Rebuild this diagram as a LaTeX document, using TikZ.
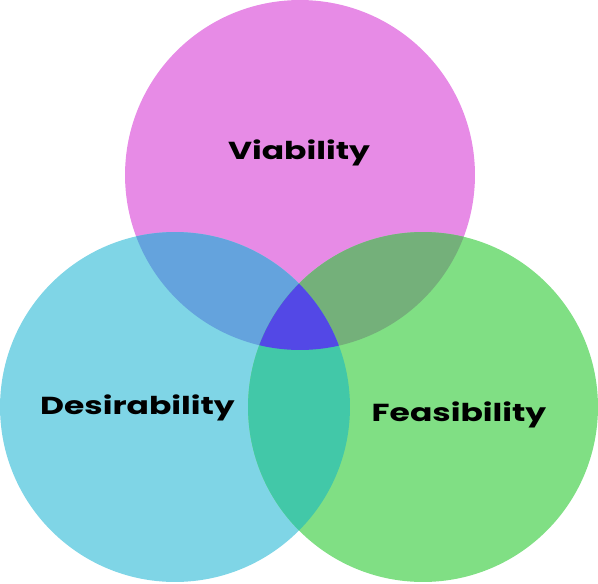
\documentclass[tikz,border=0pt]{standalone}
\usepackage{fontspec}
\newfontfamily\vennfont[FakeStretch=1.34]{Poppins}
\usepackage{tikz}
\usetikzlibrary{positioning}
\usepackage{xcolor}

\definecolor{viab}{HTML}{E78BE6}
\definecolor{desir}{HTML}{7FD5E6}
\definecolor{feas}{HTML}{80DF84}
\definecolor{viabdesir}{HTML}{64A3DD}
\definecolor{viabfeas}{HTML}{74B07A}
\definecolor{desirfeas}{HTML}{42C8A8}
\definecolor{allthree}{HTML}{5348E6}

\def\viabc{(300,408) circle (3.5cm)}
\def\desirc{(175,176) circle (3.5cm)}
\def\feasc{(423,176) circle (3.5cm)}

\begin{document}
\begin{tikzpicture}[x=0.02cm, y=0.02cm, every node/.style={font=\vennfont\bfseries\fontsize{14}{16}\selectfont}, lbl/.style={anchor=base, inner sep=0pt}]
\useasboundingbox (0,0) rectangle (598,583);
% the three sets
\fill[viab] \viabc;
\fill[desir] \desirc;
\fill[feas] \feasc;
% pairwise overlaps
\begin{scope}
  \clip \viabc;
  \fill[viabdesir] \desirc;
  \fill[viabfeas] \feasc;
\end{scope}
\begin{scope}
  \clip \desirc;
  \fill[desirfeas] \feasc;
\end{scope}
% middle
\begin{scope}
  \clip \viabc;
  \clip \desirc;
  \fill[allthree] \feasc;
\end{scope}
% labels
\node[lbl] (viability) at (299,424) {Viability};
\node[lbl] (desirability) at (137.5,169) {Desirability};
\node[lbl] (feasibility) at (459,162) {Feasibility};
\end{tikzpicture}
\end{document}
